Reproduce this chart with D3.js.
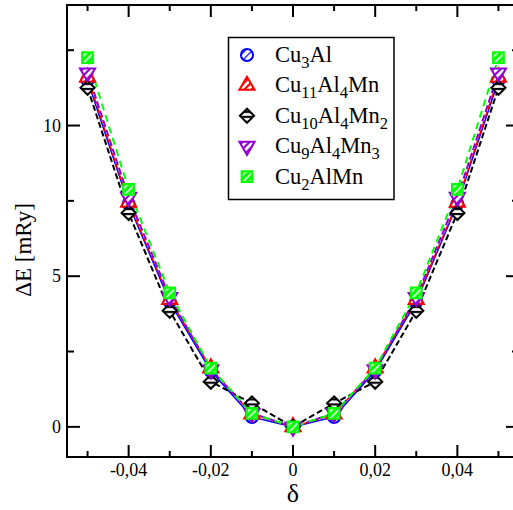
<!DOCTYPE html>
<html><head><meta charset="utf-8">
<script src="https://cdn.jsdelivr.net/npm/d3@7"></script>
<style>html,body{margin:0;padding:0;background:#fff;}svg{display:block;}</style>
</head><body>
<svg id="c" width="513" height="510"></svg>
<script>
const delta = [-0.05,-0.04,-0.03,-0.02,-0.01,0,0.01,0.02,0.03,0.04,0.05];
const cu3al      = [11.5,7.4,4.15,1.85,0.33,0,0.33,1.85,4.15,7.4,11.5];
const cu11al4mn  = [11.6,7.45,4.22,1.95,0.42,0,0.42,1.95,4.22,7.45,11.6];
const cu10al4mn2 = [11.25,7.1,3.85,1.5,0.78,0,0.78,1.5,3.85,7.1,11.25];
const cu9al4mn3  = [11.75,7.62,4.3,1.9,0.45,0,0.45,1.9,4.3,7.62,11.75];
const cu2almn    = [12.25,7.88,4.45,1.95,0.45,0,0.45,1.95,4.45,7.88,12.25];
const seriesNames = [["Cu",["3"],"Al"],["Cu",["11"],"Al",["4"],"Mn"],["Cu",["10"],"Al",["4"],"Mn",["2"]],["Cu",["9"],"Al",["4"],"Mn",["3"]],["Cu",["2"],"AlMn"]];
const xMajor = [-0.04,-0.02,0,0.02,0.04];
const xMinor = [-0.05,-0.03,-0.01,0.01,0.03,0.05];
const yMajor = [0,5,10];
const yMinor = [2.5,7.5,12.5];

const series = [
  {vals:cu3al, color:"#0000ff", dash:null, w:1.5, shape:"circle"},
  {vals:cu11al4mn, color:"#ff0000", dash:"8,2", w:1.5, shape:"triangle"},
  {vals:cu10al4mn2, color:"#000000", dash:"6,3", w:2, shape:"diamond"},
  {vals:cu9al4mn3, color:"#9400d3", dash:"7,3", w:2, shape:"triangledown"},
  {vals:cu2almn, color:"#00ff00", dash:"7,5", w:2, shape:"square"}
];

const L=67, T=5, R=519, B=457;
const x = d3.scaleLinear().domain([-0.055,0.055]).range([L,R]);
const y = d3.scaleLinear().domain([-1,14]).range([B,T]);
const svg = d3.select("#c");
const font = "'Liberation Serif','Times New Roman',serif";

const defs = svg.append("defs");
series.forEach((s,i)=>{
  const p = defs.append("pattern").attr("id","p"+i).attr("patternUnits","userSpaceOnUse")
    .attr("width",5).attr("height",5).attr("patternTransform","rotate(-45)");
  p.append("rect").attr("width",5).attr("height",5).attr("fill", i===4? s.color : "#fff");
  p.append("rect").attr("width",5).attr("height", i===4?1.5:(i===0?1.2:2.2)).attr("fill", i===4? "#fff" : s.color);
});

function symPath(shape){
  const m = {circle:[d3.symbolCircle,115],triangle:[d3.symbolTriangle,100],diamond:[d3.symbolSquare,100],triangledown:[d3.symbolTriangle,100],square:[d3.symbolSquare,115]}[shape];
  return d3.symbol().type(m[0]).size(m[1])();
}
function symRot(shape){
  return shape==="triangledown" ? " rotate(180)" : (shape==="diamond" ? " rotate(45)" : "");
}

svg.append("rect").attr("x",L).attr("y",T).attr("width",R-L).attr("height",B-T)
  .attr("fill","none").attr("stroke","#000").attr("stroke-width",2);

const tg = svg.append("g").attr("stroke","#000").attr("stroke-width",2);
xMajor.forEach(v=>{ tg.append("line").attr("x1",x(v)).attr("x2",x(v)).attr("y1",B).attr("y2",B-12);
  tg.append("line").attr("x1",x(v)).attr("x2",x(v)).attr("y1",T).attr("y2",T+12);});
xMinor.forEach(v=>{ tg.append("line").attr("x1",x(v)).attr("x2",x(v)).attr("y1",B).attr("y2",B-6);
  tg.append("line").attr("x1",x(v)).attr("x2",x(v)).attr("y1",T).attr("y2",T+6);});
yMajor.forEach(v=>{ tg.append("line").attr("y1",y(v)).attr("y2",y(v)).attr("x1",L).attr("x2",L+13);
  tg.append("line").attr("y1",y(v)).attr("y2",y(v)).attr("x1",R).attr("x2",R-13);});
yMinor.forEach(v=>{ tg.append("line").attr("y1",y(v)).attr("y2",y(v)).attr("x1",L).attr("x2",L+7);
  tg.append("line").attr("y1",y(v)).attr("y2",y(v)).attr("x1",R).attr("x2",R-7);});

const fmt = v => v===0 ? "0" : d3.format(".2f")(v).replace(".",",").replace("−","-");
xMajor.forEach(v=>svg.append("text").attr("x",x(v)).attr("y",476).attr("text-anchor","middle")
  .attr("font-family",font).attr("font-size",18).text(fmt(v)));
yMajor.forEach(v=>svg.append("text").attr("x",61).attr("y",y(v)+6).attr("text-anchor","end")
  .attr("font-family",font).attr("font-size",18).text(v));

svg.append("text").attr("x",293).attr("y",502).attr("text-anchor","middle")
  .attr("font-family",font).attr("font-size",26).text("δ");
svg.append("text").attr("transform","translate(31,250) rotate(-90)").attr("text-anchor","middle")
  .attr("font-family",font).attr("font-size",23).text("ΔE [mRy]");

defs.append("clipPath").attr("id","clip").append("rect").attr("x",L).attr("y",T).attr("width",R-L).attr("height",B-T);
const plot = svg.append("g").attr("clip-path","url(#clip)");

const line = d3.line().x((d,i)=>x(delta[i])).y(d=>y(d));
series.forEach((s,i)=>{
  plot.append("path").attr("d",line(s.vals)).attr("fill","none").attr("stroke",s.color)
    .attr("stroke-width",s.w).attr("stroke-dasharray",s.dash);
});
series.forEach((s,i)=>{
  plot.selectAll(null).data(s.vals).enter().append("path")
    .attr("transform",(d,j)=>`translate(${x(delta[j])},${y(d)})${symRot(s.shape)}`)
    .attr("d",symPath(s.shape)).attr("fill","url(#p"+i+")").attr("stroke",s.color).attr("stroke-width",2);
});

const lg = svg.append("g");
lg.append("rect").attr("x",228.5).attr("y",37.5).attr("width",165.5).attr("height",162)
  .attr("fill","#fff").attr("stroke","#000").attr("stroke-width",1.5);
series.forEach((s,i)=>{
  const cy = 55 + i*30.4;
  lg.append("path").attr("transform",`translate(247,${cy})${symRot(s.shape)}`).attr("d",symPath(s.shape))
    .attr("fill","url(#p"+i+")").attr("stroke",s.color).attr("stroke-width",2);
  const t = lg.append("text").attr("x",275).attr("y",cy+7).attr("font-family",font).attr("font-size",22.5);
  let sub=false;
  seriesNames[i].forEach(part=>{
    if(Array.isArray(part)){
      t.append("tspan").attr("dy",6).attr("font-size",16.5).text(part[0]);
      sub=true;
    } else {
      t.append("tspan").attr("dy",sub?-6:0).text(part);
      sub=false;
    }
  });
});
</script>
</body></html>
